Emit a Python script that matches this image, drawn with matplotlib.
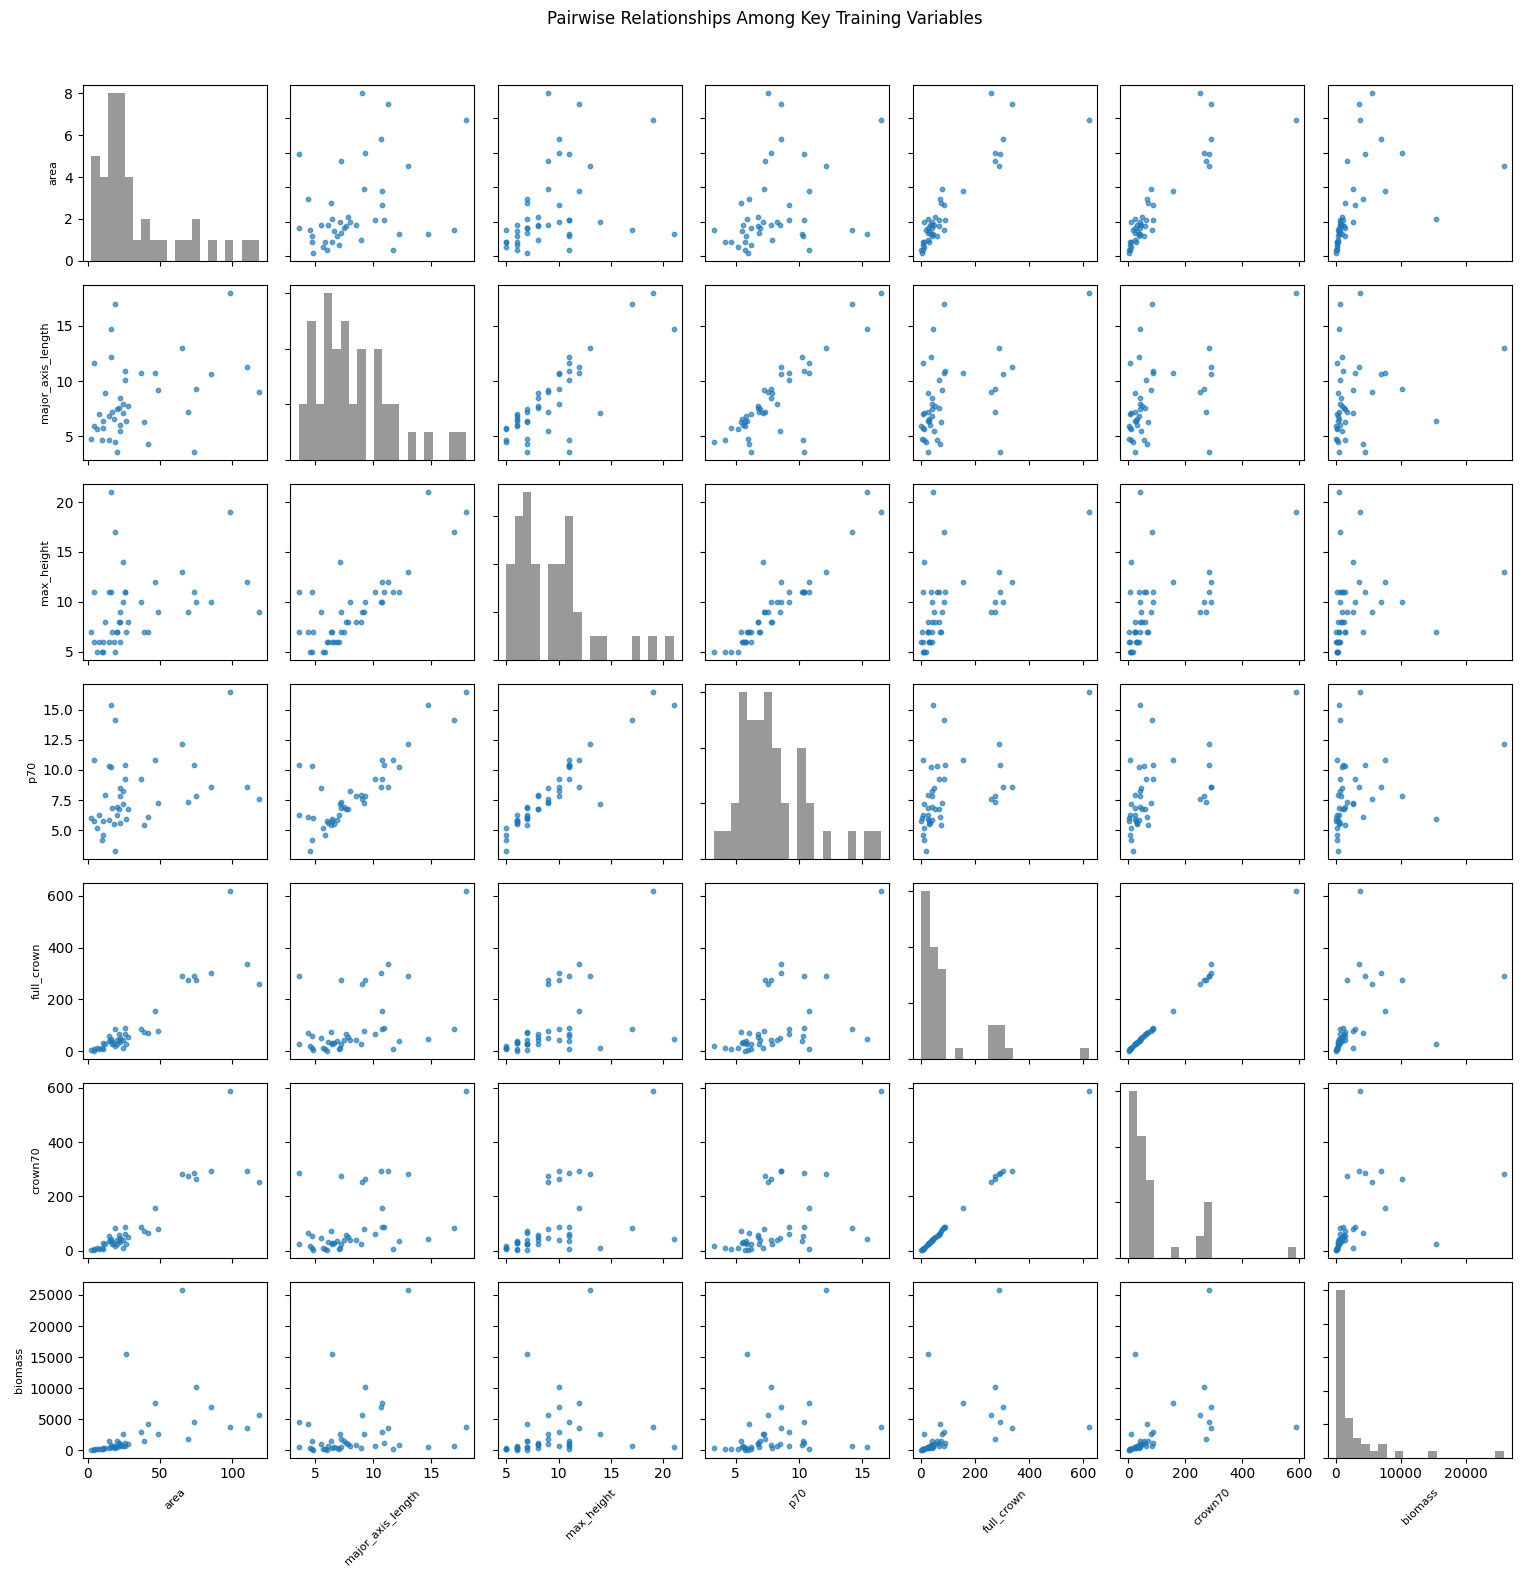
import numpy as np
import matplotlib
matplotlib.use("Agg")
import matplotlib.pyplot as plt

# values, one entry per tree crown
area = [98.7, 19.2, 15.9, 65.0, 4.5, 15.9, 110.1, 26.0, 36.8, 46.9, 85.2, 26.0, 48.9, 75.1,
        118.2, 11.9, 22.6, 24.7, 28.0, 22.0, 20.6, 16.6, 24.7, 7.8, 69.1, 14.6, 17.9, 10.5,
        26.7, 38.8, 4.5, 6.5, 10.5, 22.6, 22.6, 2.5, 9.9, 14.6, 19.2, 41.5, 20.6, 73.8]
major_axis_length = [18.0, 17.0, 14.7, 13.0, 11.66, 12.2, 11.3, 10.93, 10.75, 10.75, 10.66, 10.12,
                     9.22, 9.31, 9.04, 8.95, 8.5, 7.96, 7.78, 7.6, 7.51, 7.24, 7.15, 7.06, 7.24,
                     6.88, 6.61, 6.43, 6.43, 6.34, 5.97, 5.70, 5.79, 6.06, 5.52, 4.80, 4.71,
                     4.71, 4.53, 4.35, 3.63, 3.57]
max_height = [19, 17, 21, 13, 11, 11, 12, 11, 10, 12, 10, 11, 9, 10, 9, 8, 8, 10, 8, 8, 7,
              7, 14, 6, 9, 6, 6, 6, 7, 7, 6, 5, 5, 6, 9, 7, 5, 11, 5, 7, 7, 11]
p70 = [16.49, 14.17, 15.41, 12.11, 10.79, 10.26, 8.55, 10.37, 9.21, 10.79, 8.55, 9.21, 7.23,
       7.81, 7.56, 7.89, 7.81, 8.22, 6.74, 6.74, 6.90, 6.82, 7.15, 6.24, 7.31, 5.83, 5.50,
       5.74, 5.91, 5.41, 5.74, 5.17, 4.59, 5.58, 8.47, 5.99, 4.17, 10.32, 3.26, 6.07, 6.24, 10.37]
full_crown = [619, 85, 46, 290, 8, 39, 337, 89, 85, 155, 302, 66, 77, 275, 259, 27, 43, 43,
              54, 66, 43, 27, 12, 8, 275, 40, 31, 30, 27, 74, 2, 12, 8, 35, 50, 4, 12, 58,
              19, 70, 27, 292]
crown70 = [590, 82, 42, 283, 7, 36, 292, 88, 86, 156, 292, 62, 79, 266, 252, 25, 40, 40,
           50, 58, 40, 25, 11, 7, 274, 37, 29, 28, 25, 71, 2, 11, 7, 32, 46, 4, 11, 54,
           18, 67, 25, 285]
biomass = [3710, 650, 480, 25800, 150, 900, 3550, 1100, 2900, 7580, 6930, 700, 2580, 10160,
           5640, 400, 800, 600, 1000, 1200, 1450, 550, 2580, 250, 1770, 350, 450, 300,
           15480, 1450, 100, 200, 180, 650, 950, 80, 220, 1450, 300, 4190, 500, 4515]

names = ['area', 'major_axis_length', 'max_height', 'p70', 'full_crown', 'crown70', 'biomass']
cols = [area, major_axis_length, max_height, p70, full_crown, crown70, biomass]
n = len(names)

fig, axes = plt.subplots(n, n, figsize=(15.3, 15.75), dpi=100)
fig.subplots_adjust(left=0.0542, right=0.9882, top=0.946, bottom=0.0745,
                    wspace=0.128, hspace=0.136)

for i in range(n):
    for j in range(n):
        ax = axes[i, j]
        if i == j:
            ax.hist(cols[i], bins=20, color='gray', alpha=0.8)
        else:
            ax.scatter(cols[j], cols[i], s=10, alpha=0.65, color='C0')
        if j == 0:
            ax.set_ylabel(names[i], fontsize=8)
        else:
            ax.tick_params(labelleft=False)
        if i == n - 1:
            ax.set_xlabel(names[j], fontsize=8, rotation=45)
        else:
            ax.tick_params(labelbottom=False)

fig.suptitle('Pairwise Relationships Among Key Training Variables', fontsize=12, y=0.9935)
fig.savefig('out.png', dpi=100)
